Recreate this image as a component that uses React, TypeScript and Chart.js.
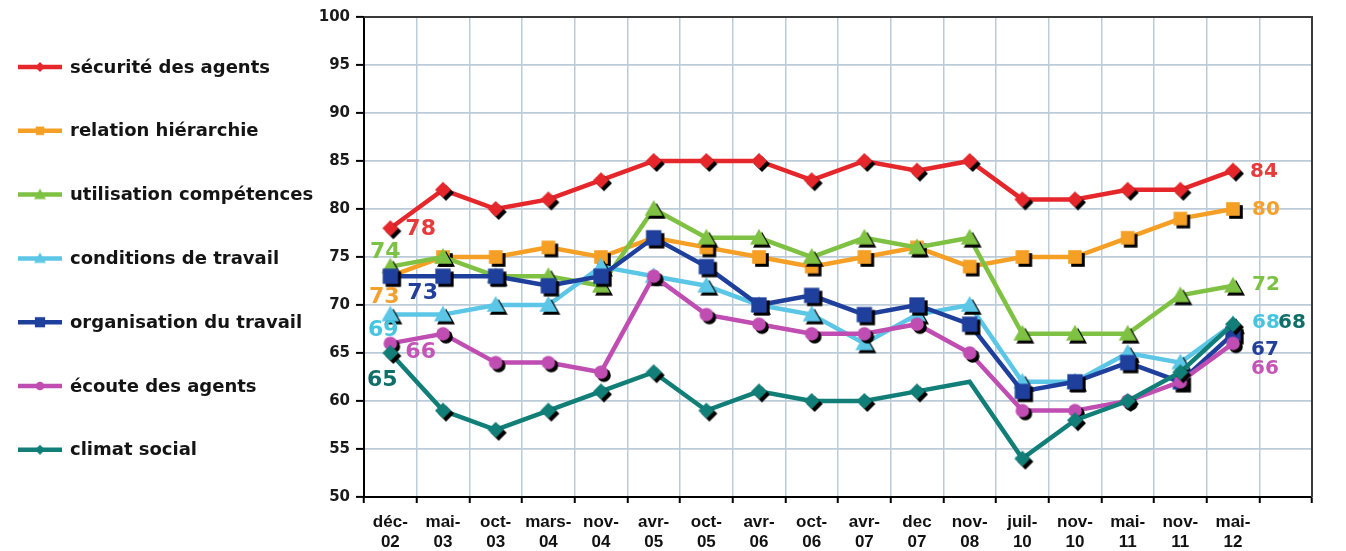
import React, { useEffect, useRef } from "react";
import { Chart, registerables } from "chart.js";

Chart.register(...registerables);

const categories: (string | string[])[] = [
  ["déc-", "02"], ["mai-", "03"], ["oct-", "03"], ["mars-", "04"], ["nov-", "04"],
  ["avr-", "05"], ["oct-", "05"], ["avr-", "06"], ["oct-", "06"], ["avr-", "07"],
  ["dec", "07"], ["nov-", "08"], ["juil-", "10"], ["nov-", "10"], ["mai-", "11"],
  ["nov-", "11"], ["mai-", "12"], "",
];

const seriesNames = [
  "sécurité des agents",
  "relation hiérarchie",
  "utilisation compétences",
  "conditions de travail",
  "organisation du travail",
  "écoute des agents",
  "climat social",
];

const securite = [78, 82, 80, 81, 83, 85, 85, 85, 83, 85, 84, 85, 81, 81, 82, 82, 84];
const relation = [73, 75, 75, 76, 75, 77, 76, 75, 74, 75, 76, 74, 75, 75, 77, 79, 80];
const utilisation = [74, 75, 73, 73, 72, 80, 77, 77, 75, 77, 76, 77, 67, 67, 67, 71, 72];
const conditions = [69, 69, 70, 70, 74, 73, 72, 70, 69, 66, 69, 70, 62, 62, 65, 64, 68];
const organisation = [73, 73, 73, 72, 73, 77, 74, 70, 71, 69, 70, 68, 61, 62, 64, 62, 67];
const ecoute = [66, 67, 64, 64, 63, 73, 69, 68, 67, 67, 68, 65, 59, 59, 60, 62, 66];
const climat = [65, 59, 57, 59, 61, 63, 59, 61, 60, 60, 61, 62, 54, 58, 60, 63, 68];

const yMin = 50;
const yMax = 100;
const yStep = 5;

// styles
const colors = ["#e5262b", "#f59f25", "#7fc243", "#5cc6e6", "#1f3f9c", "#bf4db2", "#117f78"];
const labelColors = ["#e63a3c", "#f5a02c", "#7cc244", "#45c6de", "#22409a", "#c455b6", "#0f6f69"];
const shapes = ["diamond", "square", "triangle", "triangle", "square", "circle", "diamond"];
const markerR = [8, 8, 9, 9, 9, 8, 8];

// label offsets: [dx, dy, align]
const startLabel: [number, number, CanvasTextAlign][] = [
  [15, 1, "left"], [-6, 21, "center"], [-5, -14, "center"], [-7, 16, "center"],
  [17, 17, "left"], [15, 9, "left"], [-8, 27, "center"],
];
const endLabel: [number, number, CanvasTextAlign][] = [
  [17, 1, "left"], [19, 1, "left"], [19, -1, "left"], [19, -1, "left"],
  [18, 16, "left"], [18, 25, "left"], [45, -1, "left"],
];

function drawShape(ctx: CanvasRenderingContext2D, shape: string, x: number, y: number, r: number) {
  ctx.beginPath();
  if (shape === "diamond") {
    ctx.moveTo(x, y - r);
    ctx.lineTo(x + r, y);
    ctx.lineTo(x, y + r);
    ctx.lineTo(x - r, y);
    ctx.closePath();
  } else if (shape === "square") {
    const h = r * 0.85;
    ctx.rect(x - h, y - h, 2 * h, 2 * h);
  } else if (shape === "triangle") {
    ctx.moveTo(x, y - r);
    ctx.lineTo(x + r, y + r * 0.75);
    ctx.lineTo(x - r, y + r * 0.75);
    ctx.closePath();
  } else {
    ctx.arc(x, y, r * 0.85, 0, Math.PI * 2);
  }
  ctx.fill();
}

function makeMarker(shape: string, color: string, r: number, off: number) {
  const pad = off + 2;
  const S = Math.ceil(2 * (r + pad));
  const c = document.createElement("canvas");
  c.width = S;
  c.height = S;
  const ctx = c.getContext("2d")!;
  const cx = S / 2;
  const cy = S / 2;
  if (off > 0) {
    ctx.fillStyle = "#000";
    drawShape(ctx, shape, cx + off, cy + off, r);
  }
  ctx.fillStyle = color;
  drawShape(ctx, shape, cx, cy, r);
  return c;
}

export default function App() {
  const ref = useRef<HTMLCanvasElement>(null);

  useEffect(() => {
    if (!ref.current) return;
    const dataArrays = [securite, relation, utilisation, conditions, organisation, ecoute, climat];
    const markers = shapes.map((s, i) => makeMarker(s, colors[i], markerR[i], 3));
    const legendMarkers = shapes.map((s, i) => makeMarker(s, colors[i], markerR[i] - 3, 0));

    const datasets = dataArrays.map((d, i) => ({
      label: seriesNames[i],
      data: d,
      borderColor: colors[i],
      backgroundColor: colors[i],
      borderWidth: 4.5,
      pointStyle: markers[i] as any,
      pointRadius: i === 6 ? d.map((_, k) => (k === 11 ? 0 : 7)) : 7,
      pointHoverRadius: 7,
      tension: 0,
      order: 7 - i,
    }));

    const frame = {
      id: "frame",
      afterDatasetsDraw(chart: any) {
        const { ctx, chartArea: a } = chart;
        ctx.save();
        ctx.strokeStyle = "#3a3a3a";
        ctx.lineWidth = 2;
        ctx.beginPath();
        ctx.moveTo(a.left, a.top);
        ctx.lineTo(a.right, a.top);
        ctx.lineTo(a.right, a.bottom);
        ctx.stroke();
        ctx.restore();
      },
    };

    const valueLabels = {
      id: "valueLabels",
      afterDatasetsDraw(chart: any) {
        const ctx = chart.ctx;
        ctx.save();
        ctx.textBaseline = "middle";
        chart.data.datasets.forEach((ds: any, i: number) => {
          const meta = chart.getDatasetMeta(i);
          const n = ds.data.length;
          const p0 = meta.data[0];
          const p1 = meta.data[n - 1];
          ctx.fillStyle = labelColors[i];
          ctx.font = "bold 22px 'DejaVu Sans'";
          ctx.textAlign = startLabel[i][2];
          ctx.fillText(String(ds.data[0]), p0.x + startLabel[i][0], p0.y + startLabel[i][1]);
          ctx.font = "bold 20px 'DejaVu Sans'";
          ctx.textAlign = endLabel[i][2];
          ctx.fillText(String(ds.data[n - 1]), p1.x + endLabel[i][0], p1.y + endLabel[i][1]);
        });
        ctx.restore();
      },
    };

    const sideLegend = {
      id: "sideLegend",
      afterDraw(chart: any) {
        const ctx = chart.ctx;
        ctx.save();
        const top = 67;
        const gap = 63.8;
        seriesNames.forEach((name, i) => {
          const y = top + i * gap;
          ctx.strokeStyle = colors[i];
          ctx.lineWidth = 4.5;
          ctx.beginPath();
          ctx.moveTo(18, y);
          ctx.lineTo(62, y);
          ctx.stroke();
          const m = legendMarkers[i];
          ctx.drawImage(m, 40 - m.width / 2, y - m.height / 2);
          ctx.fillStyle = "#141414";
          ctx.font = "bold 18px 'DejaVu Sans'";
          ctx.textAlign = "left";
          ctx.textBaseline = "middle";
          ctx.fillText(name, 70, y + 1);
        });
        ctx.restore();
      },
    };

    const chart = new Chart(ref.current, {
      type: "line",
      data: { labels: categories as any, datasets: datasets as any },
      options: {
        animation: false,
        responsive: true,
        maintainAspectRatio: false,
        layout: { padding: { left: 320, top: 17, right: 34, bottom: 0 } },
        plugins: {
          legend: { display: false },
          tooltip: { enabled: false },
          title: { display: false },
        },
        scales: {
          x: {
            type: "category",
            offset: true,
            grid: {
              offset: true,
              color: "#bccbd8",
              lineWidth: 1.5,
              tickColor: "#000",
              tickLength: 6,
              tickWidth: 2,
            },
            border: { display: true, color: "#000", width: 2 },
            ticks: {
              color: "#111",
              font: { family: "'Liberation Sans'", weight: "bold", size: 17 },
              padding: 9,
              maxRotation: 0,
              autoSkip: false,
            },
            afterFit: (s: any) => {
              s.height = 54;
            },
          },
          y: {
            min: yMin,
            max: yMax,
            grid: {
              color: "#bccbd8",
              lineWidth: 1.8,
              tickColor: "#000",
              tickLength: 8,
              tickWidth: 2,
            },
            border: { display: true, color: "#000", width: 2 },
            ticks: {
              stepSize: yStep,
              color: "#1a1a1a",
              font: { family: "'DejaVu Sans'", weight: "bold", size: 15 },
              padding: 6,
            },
            afterFit: (s: any) => {
              s.width = 44;
            },
          },
        },
      },
      plugins: [frame, valueLabels, sideLegend],
    });
    return () => chart.destroy();
  }, []);

  return (
    <div style={{ position: "fixed", left: 0, top: 0, width: 1346, height: 551, background: "#fff" }}>
      <canvas ref={ref} />
    </div>
  );
}
